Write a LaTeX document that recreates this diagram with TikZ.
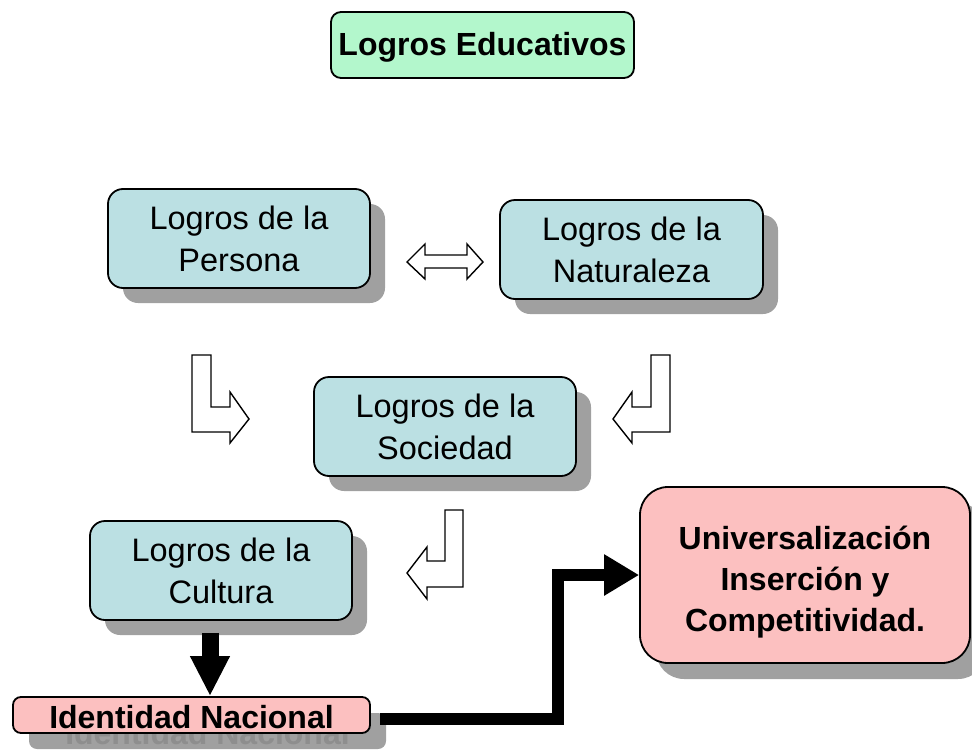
\documentclass[tikz,border=0pt]{standalone}
\usepackage{fontspec}
\setmainfont{Liberation Sans}
\usetikzlibrary{arrows.meta,calc}
\definecolor{mint}{HTML}{B3F7CC}
\definecolor{pale}{HTML}{BBE0E3}
\definecolor{rose}{HTML}{FCC0C0}
\definecolor{shade}{HTML}{A0A0A0}
\definecolor{ghost}{HTML}{8E8E8E}
\tikzset{
  txt/.style={font=\fontsize{32.5}{42}\selectfont},
  btxt/.style={font=\fontsize{32}{41}\selectfont\bfseries},
  box/.style={draw=black, line width=1.8pt, rounded corners=15pt, align=center, inner sep=0pt},
  shad/.style={fill=shade, draw=none, rounded corners=15pt, align=center, inner sep=0pt, text=ghost},
  hollow/.style={draw=black, line width=1.4pt, fill=white, line join=miter},
  heavy/.style={draw=black, line join=miter}
}
\begin{document}
\begin{tikzpicture}[x=1pt,y=-1pt]
\useasboundingbox (0,0) rectangle (972,755);

% title
\node[box, fill=mint, rounded corners=10pt, minimum width=303pt, minimum height=66pt, btxt] (edu) at (482.5,45) {\raisebox{-2pt}[\height][\depth]{Logros Educativos}};

% shadows (with the ghost text that shows through)
\node[shad, minimum width=262pt, minimum height=99pt, txt] (per-s) at (254,253.5) {Logros de la\\Persona};
\node[shad, minimum width=263pt, minimum height=99pt, txt] (nat-s) at (646.5,264.5) {Logros de la\\Naturaleza};
\node[shad, minimum width=262pt, minimum height=99pt, txt] (soc-s) at (460,441.5) {Logros de la\\Sociedad};
\node[shad, minimum width=262pt, minimum height=99pt, txt] (cul-s) at (236,585.5) {Logros de la\\Cultura};
\node[shad, rounded corners=8pt, minimum width=357pt, minimum height=36pt, btxt] (idn-s) at (207.5,731) {\raisebox{-2pt}[\height][\depth]{Identidad Nacional}};
\node[shad, rounded corners=28pt, minimum width=330pt, minimum height=176pt, btxt] (uni-s) at (821,591)
  {\raisebox{-7pt}[\height][\depth]{\begin{tabular}{@{}c@{}}Universalización\\Inserción y\\Competitividad.\end{tabular}}};

% boxes
\node[box, fill=pale, minimum width=262pt, minimum height=99pt, txt] (per) at (239,238.5) {Logros de la\\Persona};
\node[box, fill=pale, minimum width=263pt, minimum height=99pt, txt] (nat) at (631.5,249.5) {Logros de la\\Naturaleza};
\node[box, fill=pale, minimum width=262pt, minimum height=99pt, txt] (soc) at (445,426.5) {Logros de la\\Sociedad};
\node[box, fill=pale, minimum width=262pt, minimum height=99pt, txt] (cul) at (221,570.5) {Logros de la\\Cultura};
\node[box, fill=rose, rounded corners=8pt, minimum width=357pt, minimum height=36pt, btxt] (idn) at (191.5,715) {\raisebox{-2pt}[\height][\depth]{Identidad Nacional}};
\node[box, fill=rose, rounded corners=28pt, minimum width=330pt, minimum height=176pt, btxt] (uni) at (805,575)
  {\raisebox{-7pt}[\height][\depth]{\begin{tabular}{@{}c@{}}Universalización\\Inserción y\\Competitividad.\end{tabular}}};

% hollow arrows
\draw[hollow] (407,262) -- (425,244) -- (425,255) -- (467,255) -- (467,244) -- (483,262)
  -- (467,279) -- (467,268) -- (425,268) -- (425,279) -- cycle;
\draw[hollow] (192,355) -- (211,355) -- (211,407) -- (230,407) -- (230,392) -- (249,419)
  -- (230,443) -- (230,432) -- (192,432) -- cycle;
\draw[hollow] (670,355) -- (651,355) -- (651,407) -- (632,407) -- (632,392) -- (613,419)
  -- (632,443) -- (632,432) -- (670,432) -- cycle;
\draw[hollow] (463,510) -- (445,510) -- (445,561) -- (427,561) -- (427,547) -- (407,573)
  -- (427,599) -- (427,587) -- (463,587) -- cycle;

% black arrows
\draw[heavy, line width=17pt, -{Triangle[length=40pt,width=37pt]}]
  ($(cul.south)+(-11,12)$) -- ($(idn.north)+(18.5,0)$);
\draw[heavy, line width=12pt, -{Triangle[length=35pt,width=39pt]}]
  ($(idn.east)+(9,4)$) -| (557.5,575) -- (uni.west);
\end{tikzpicture}
\end{document}
